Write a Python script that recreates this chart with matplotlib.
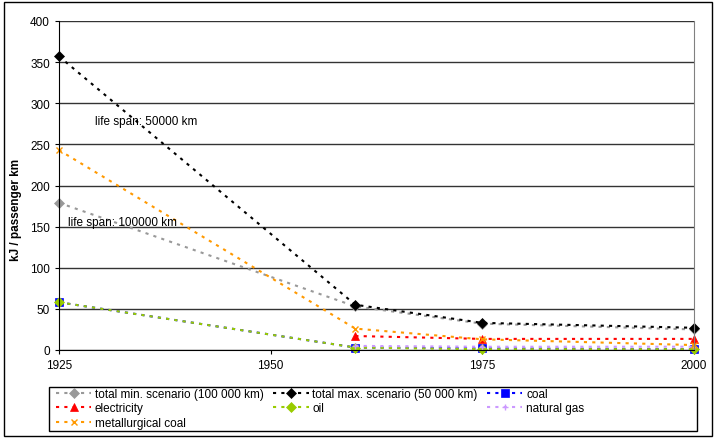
import matplotlib
matplotlib.use("Agg")
import matplotlib.pyplot as plt
import numpy as np
from matplotlib.patches import Rectangle

plt.rcParams['font.family'] = ['Liberation Sans', 'DejaVu Sans']

years = [1925, 1960, 1975, 2000]
total_min = [179, 53, 32, 25]      # 100 000 km life span
total_max = [357, 55, 33, 27]      # 50 000 km life span
coal = [58, 3, 2, 1]
electricity = [np.nan, 17, 13.5, 13.5]
oil = [58, 3, 1, 1]
natural_gas = [np.nan, 5, 4, 4]
met_coal = [243, 26, 13, 6]

series = [
    ("total min. scenario (100 000 km)", total_min, "#999999", "D"),
    ("total max. scenario (50 000 km)", total_max, "#000000", "D"),
    ("coal", coal, "#0000ff", "s"),
    ("electricity", electricity, "#ff0000", "^"),
    ("oil", oil, "#99cc00", "D"),
    ("natural gas", natural_gas, "#cc99ff", "+"),
    ("metallurgical coal", met_coal, "#ff9900", "x"),
]

fs = 8.5
fig = plt.figure(figsize=(7.15, 4.39), dpi=100)
ax = fig.add_axes([59/715, 1-351/439, (694-59)/715, (351-22)/439])

handles = {}
for name, vals, col, mk in series:
    ms = 6 if mk in ("s", "^") else 5
    h, = ax.plot(years, vals, color=col, lw=1.5, dashes=(1.5, 2.5),
                 marker=mk, markersize=ms, markeredgewidth=1 if mk in "+x" else 0.5,
                 markeredgecolor=col, label=name, clip_on=False)
    handles[name] = h

ax.set_xlim(1925, 2000)
ax.set_ylim(0, 400)
ax.set_xticks([1925, 1950, 1975, 2000])
ax.set_yticks(range(0, 401, 50))
ax.tick_params(labelsize=fs, length=3, color="black")
ax.yaxis.grid(True, color="#333333", lw=1)
ax.set_axisbelow(True)
ax.spines['top'].set_visible(False)
ax.spines['right'].set_color("#808080")
ax.set_ylabel("kJ / passenger km", fontsize=fs, fontweight="bold")
ax.yaxis.set_label_coords((22-59)/635, (351-210)/329)

ax.text(1929.3, 279, "life span: 50000 km", fontsize=fs, va="center")
ax.text(1926.1, 156, "life span: 100000 km", fontsize=fs, va="center")

order = ["total min. scenario (100 000 km)", "electricity", "metallurgical coal",
         "total max. scenario (50 000 km)", "oil",
         "coal", "natural gas"]
leg = fig.legend([handles[n] for n in order], order, ncol=3, fontsize=fs,
                 bbox_to_anchor=(56/715, 1-389/439), loc="upper left",
                 handlelength=3, handletextpad=0.3, columnspacing=0.8,
                 borderpad=0, borderaxespad=0, labelspacing=0.2, frameon=False)

# legend box and outer chart border
fig.patches.append(Rectangle((49/715, 1-432/439), 648/715, 44/439, transform=fig.transFigure,
                             fill=False, edgecolor="black", lw=1))
fig.patches.append(Rectangle((4/715, 2/439), 708/715, 434/439, transform=fig.transFigure,
                             fill=False, edgecolor="black", lw=1))

fig.savefig("out.png", dpi=100)
